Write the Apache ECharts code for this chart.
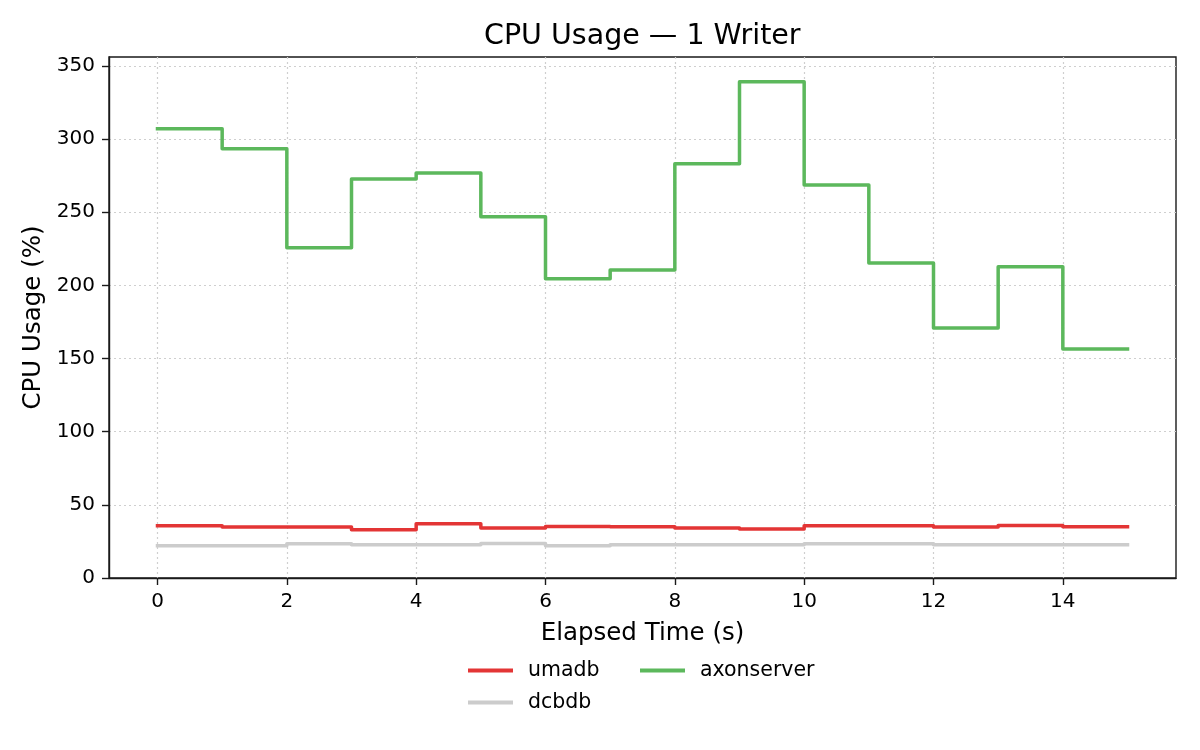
<!DOCTYPE html>
<html>
<head>
<meta charset="utf-8">
<script src="https://cdn.jsdelivr.net/npm/echarts@6/dist/echarts.min.js"></script>
<style>
  html, body { margin: 0; padding: 0; background: #fff; }
  #main { width: 1200px; height: 750px; }
</style>
</head>
<body>
<div id="main"></div>
<script>
// elapsed seconds, one sample per second (step-post, last value held to 15)
var seconds = [0, 1, 2, 3, 4, 5, 6, 7, 8, 9, 10, 11, 12, 13, 14, 15];
var umadb = [35.7, 34.8, 34.8, 33.0, 37.0, 34.1, 35.2, 35.0, 34.1, 33.4, 35.7, 35.7, 34.8, 35.9, 35.0, 35.0];
var dcbdb = [22.0, 22.0, 23.4, 22.7, 22.7, 23.6, 22.0, 22.7, 22.7, 22.7, 23.4, 23.4, 22.7, 22.7, 22.7, 22.7];
var axonserver = [306.9, 293.3, 225.6, 272.7, 276.8, 246.8, 204.4, 210.5, 283.0, 339.1, 268.6, 215.3, 170.9, 212.6, 156.5, 156.5];
var xTicks = [0, 2, 4, 6, 8, 10, 12, 14];
var yTicks = [0, 50, 100, 150, 200, 250, 300, 350];

var font = 'DejaVu Sans';
var gridColor = '#cfcfcf';
var chart = echarts.init(document.getElementById('main'));

// custom series: one polyline per series, so tiny steps are not dropped
function stepSeries(name, vals, color) {
    return {
        name: name,
        type: 'custom',
        data: seconds.map(function (s, i) { return [s, vals[i]]; }),
        encode: { x: 0, y: 1 },
        itemStyle: { color: color },
        animation: false,
        renderItem: function (params, api) {
            if (params.dataIndex !== 0) return null;
            var pts = [];
            for (var i = 0; i < seconds.length; i++) {
                if (i > 0) pts.push(api.coord([seconds[i], vals[i - 1]]));
                pts.push(api.coord([seconds[i], vals[i]]));
            }
            return {
                type: 'polyline',
                shape: { points: pts },
                style: { stroke: color, lineWidth: 3.5, fill: null, lineJoin: 'round', lineCap: 'square' }
            };
        }
    };
}

function legendItem(name, left, top) {
    return {
        data: [name],
        left: left, top: top,
        itemWidth: 45, itemHeight: 4,
        icon: 'rect',
        selectedMode: false,
        textStyle: { fontFamily: font, fontSize: 20.5, color: '#000', padding: [0, 0, 0, 10] }
    };
}

var option = {
    backgroundColor: '#fff',
    textStyle: { fontFamily: font },
    title: {
        text: 'CPU Usage \u2014 1 Writer',
        left: 479,
        top: 17,
        textStyle: { fontFamily: font, fontSize: 28.5, fontWeight: 'normal', color: '#000' }
    },
    grid: {
        left: 109, right: 24, top: 57, bottom: 172,
        show: true, borderColor: '#1a1a1a', borderWidth: 1.4, backgroundColor: 'transparent'
    },
    legend: [
        legendItem('umadb', 463, 655),
        legendItem('axonserver', 635, 655),
        legendItem('dcbdb', 463, 687)
    ],
    xAxis: {
        type: 'value',
        min: -0.75, max: 15.75,
        name: 'Elapsed Time (s)',
        nameLocation: 'middle',
        nameGap: 43,
        nameTextStyle: { fontFamily: font, fontSize: 24.5, color: '#000' },
        axisLine: { show: true, onZero: false, lineStyle: { color: '#1a1a1a', width: 1.4 } },
        axisTick: { show: true, customValues: xTicks, length: 7, lineStyle: { color: '#1a1a1a', width: 1.4 } },
        axisLabel: { customValues: xTicks, fontFamily: font, fontSize: 20, color: '#000', margin: 14 },
        splitLine: { show: true, customValues: xTicks, lineStyle: { color: gridColor, type: [2, 3], width: 1.2 } }
    },
    yAxis: {
        type: 'value',
        min: 0, max: 356,
        name: 'CPU Usage (%)',
        nameLocation: 'middle',
        nameGap: 62.5,
        nameTextStyle: { fontFamily: font, fontSize: 24.5, color: '#000' },
        axisLine: { show: true, onZero: false, lineStyle: { color: '#1a1a1a', width: 1.4 } },
        axisTick: { show: true, customValues: yTicks, length: 7, lineStyle: { color: '#1a1a1a', width: 1.4 } },
        axisLabel: { customValues: yTicks, fontFamily: font, fontSize: 20, color: '#000', margin: 14 },
        splitLine: { show: true, customValues: yTicks, lineStyle: { color: gridColor, type: [2, 3], width: 1.2 } }
    },
    series: [
        stepSeries('umadb', umadb, '#e33535'),
        stepSeries('dcbdb', dcbdb, '#cccccc'),
        stepSeries('axonserver', axonserver, '#5cb85c')
    ]
};

chart.setOption(option);
</script>
</body>
</html>
